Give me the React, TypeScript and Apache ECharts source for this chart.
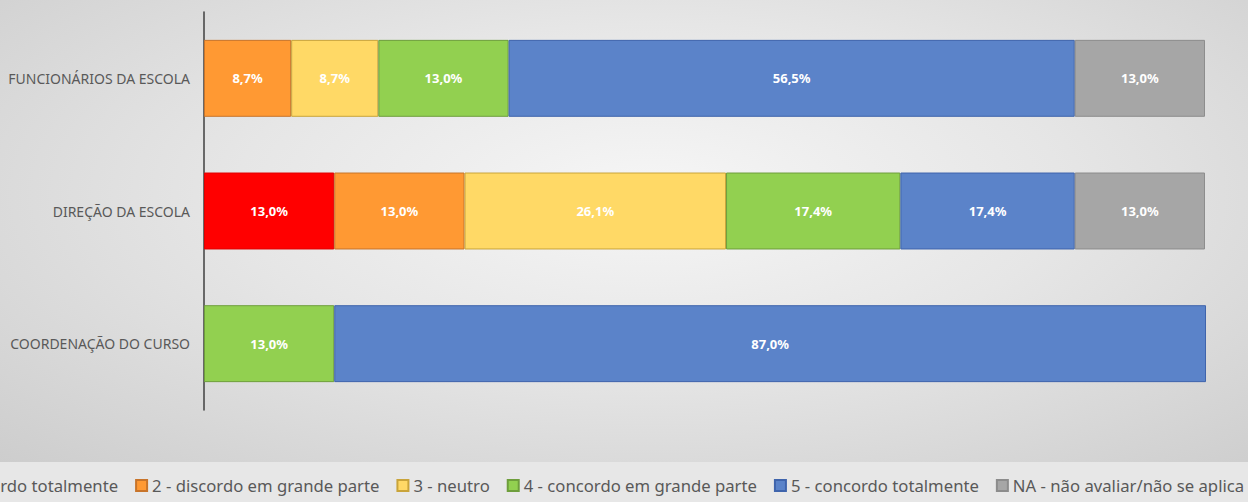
import React, { useEffect, useRef } from "react";
import * as echarts from "echarts";

const categories = ["FUNCIONÁRIOS DA ESCOLA", "DIREÇÃO DA ESCOLA", "COORDENAÇÃO DO CURSO"];
const seriesNames = [
  "1 - discordo totalmente",
  "2 - discordo em grande parte",
  "3 - neutro",
  "4 - concordo em grande parte",
  "5 - concordo totalmente",
  "NA - não avaliar/não se aplica",
];
const discordoTotal = [null, 13.0, null];
const discordoGrande = [8.7, 13.0, null];
const neutro = [8.7, 26.1, null];
const concordoGrande = [13.0, 17.4, 13.0];
const concordoTotal = [56.5, 17.4, 87.0];
const naoAplica = [13.0, 13.0, null];
const seriesValues = [discordoTotal, discordoGrande, neutro, concordoGrande, concordoTotal, naoAplica];
const colors = ["#FF0000", "#FF9933", "#FFD966", "#92D050", "#5B83C9", "#A6A6A6"];
const borders = ["#E00000", "#C8742A", "#C9A43A", "#6E9E3C", "#3F64AC", "#8C8C8C"];

export default function App() {
  const ref = useRef<HTMLDivElement>(null);
  useEffect(() => {
    if (!ref.current) return;
    const chart = echarts.init(ref.current, null, { renderer: "svg" });
    chart.setOption({
      animation: false,
      backgroundColor: "transparent",
      textStyle: { fontFamily: "Noto Sans" },
      grid: { left: 204, right: 42, top: 12, bottom: 92, containLabel: false },
      xAxis: {
        type: "value",
        min: 0,
        max: 100,
        show: false,
      },
      yAxis: {
        type: "category",
        data: categories,
        inverse: true,
        axisLine: { show: true, lineStyle: { color: "#4a4a4a", width: 1.6 } },
        axisTick: { show: false },
        axisLabel: { color: "#595959", fontSize: 14, margin: 14, fontFamily: "Noto Sans" },
        splitLine: { show: false },
      },
      legend: {
        data: seriesNames,
        left: -86,
        top: 472,
        width: 1500,
        icon: "rect",
        itemWidth: 11,
        itemHeight: 11,
        itemGap: 17,
        textStyle: { color: "#595959", fontSize: 16.7, fontFamily: "Noto Sans" },
      },
      series: seriesNames.map((name, i) => ({
        name,
        type: "bar",
        stack: "total",
        barWidth: "58%",
        data: seriesValues[i],
        itemStyle: { color: colors[i], borderColor: borders[i], borderWidth: 1 },
        label: {
          show: true,
          position: "inside",
          color: "#ffffff",
          fontWeight: "bold",
          fontSize: 13,
          fontFamily: "Noto Sans",
          formatter: (p: any) => p.value.toFixed(1).replace(".", ",") + "%",
        },
      })),
    });
    return () => chart.dispose();
  }, []);
  return (
    <div style={{ position: "fixed", left: 0, top: 0, width: 1248, height: 502, background: "#e7e7e7", overflow: "hidden" }}>
      <div
        style={{
          position: "absolute",
          left: 0,
          top: 0,
          width: 1248,
          height: 462,
          background: "radial-gradient(ellipse farthest-corner at 52% 42%, #f6f6f6 0%, #e6e6e6 45%, #cdcdcd 100%)",
        }}
      />
      <div ref={ref} style={{ position: "absolute", left: 0, top: 0, width: 1248, height: 502 }} />
    </div>
  );
}
